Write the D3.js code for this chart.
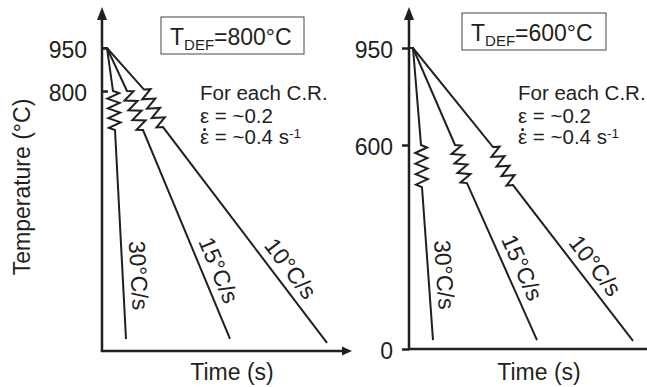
<!DOCTYPE html>
<html>
<head>
<meta charset="utf-8">
<script src="https://cdn.jsdelivr.net/npm/d3@7/dist/d3.min.js"></script>
<style>
  body { margin: 0; background: #fff; }
  svg { display: block; }
  text { font-family: "Liberation Sans", Arial, Helvetica, sans-serif; fill: #231f20; }
</style>
</head>
<body>
<svg id="chart" width="647" height="387"></svg>
<script>
// Thermal schedules: reheat to 950 °C, cool to T_DEF, deform, then cool at each rate.
// Every point is [time (arbitrary units), temperature (°C)].
const rateLabels = ["30°C/s", "15°C/s", "10°C/s"];
const deformTemps = [800, 600];
const yTicksLeft = [950, 800];
const yTicksRight = [950, 600, 0];
const strainText = "ε = ~0.2";
const rateText = " = ~0.4 s";

// panel T_DEF = 800 °C
const startLeft = [2, 950];
const deformStartLeft = [[4.4, 800], [10, 800], [16.8, 805]];
const deformEndLeft = [[5.2, 680], [16.4, 680], [24.4, 689]];
const endLeft = [[9.6, 37], [51.2, 37], [90, 25]];

// panel T_DEF = 600 °C
const startRight = [1.6, 950];
const deformStartRight = [[4.8, 600], [18.4, 600], [33.6, 594]];
const deformEndRight = [[5.2, 476], [23.2, 488], [41.6, 482]];
const endRight = [[9.6, 26], [51.2, 26], [89.6, 24]];

const svg = d3.select("#chart");
const INK = "#231f20";

function drawPanel(cfg) {
  const g = svg.append("g");
  const x = cfg.x, y = cfg.y;
  const x0 = x(0), yb = y(0);

  // axes with arrowheads
  g.append("line").attr("x1", x0).attr("y1", yb).attr("x2", x0).attr("y2", 16)
    .attr("stroke", INK).attr("stroke-width", 2.5);
  g.append("path").attr("d", `M${x0},7L${x0 - 5},20L${x0 + 5},20Z`).attr("fill", INK);
  g.append("line").attr("x1", x0 - 1.25).attr("y1", yb).attr("x2", cfg.xEnd - 6).attr("y2", yb)
    .attr("stroke", INK).attr("stroke-width", 2.5);
  g.append("path").attr("d", `M${cfg.xEnd},${yb}L${cfg.xEnd - 10},${yb - 4.5}L${cfg.xEnd - 10},${yb + 4.5}Z`)
    .attr("fill", INK);

  // temperature ticks
  const ax = d3.axisLeft(y).tickValues(cfg.ticks).tickFormat(d3.format("d"))
    .tickSizeInner(cfg.tickSize).tickSizeOuter(0).tickPadding(cfg.tickPad);
  const ag = g.append("g").attr("transform", `translate(${x0},0)`).call(ax);
  ag.select(".domain").remove();
  ag.selectAll(".tick line").attr("stroke", INK).attr("stroke-width", 2.5);
  ag.selectAll(".tick text").attr("font-size", 23).attr("dy", "0.4em")
    .attr("fill", INK).style("font-family", '"Liberation Sans", Arial, sans-serif');

  // cooling paths with a spring glyph marking the deformation step
  const line = d3.line();
  const amp = 6, teeth = 8;
  cfg.deformStart.forEach((ds, i) => {
    const p0 = [x(0), y(cfg.start[1])];
    const p1 = [x(cfg.start[0]), y(cfg.start[1])];
    const p2 = [x(ds[0]), y(ds[1])];
    const p3 = [x(cfg.deformEnd[i][0]), y(cfg.deformEnd[i][1])];
    const p4 = [x(cfg.end[i][0]), y(cfg.end[i][1])];
    const dx = p3[0] - p2[0], dy = p3[1] - p2[1];
    const L = Math.hypot(dx, dy);
    const ux = dx / L, uy = dy / L, nx = uy, ny = -ux;
    const spring = d3.range(teeth).map(k => {
      const s = L * (k + 0.5) / teeth, side = k % 2 ? -amp : amp;
      return [p2[0] + ux * s + nx * side, p2[1] + uy * s + ny * side];
    });
    g.append("path")
      .attr("d", line([p0, p1, p2, ...spring, p3, p4]))
      .attr("fill", "none").attr("stroke", INK).attr("stroke-width", 2)
      .attr("stroke-linejoin", "miter");

    // rate label along the final cooling segment
    const ex = p4[0] - p3[0], ey = p4[1] - p3[1];
    const ang = Math.atan2(ey, ex) * 180 / Math.PI;
    const f = cfg.labelFrac;
    g.append("text")
      .attr("transform", `translate(${p3[0] + ex * f},${p3[1] + ey * f}) rotate(${ang})`)
      .attr("y", -8).attr("text-anchor", "middle").attr("font-size", 23)
      .text(rateLabels[i]);
  });

  // T_DEF box
  g.append("rect").attr("x", cfg.box[0]).attr("y", cfg.box[1])
    .attr("width", cfg.box[2]).attr("height", cfg.box[3])
    .attr("fill", "none").attr("stroke", "#444").attr("stroke-width", 1);
  const tt = g.append("text").attr("x", cfg.box[0] + 9).attr("y", cfg.box[1] + 28).attr("font-size", 23);
  tt.append("tspan").text("T");
  tt.append("tspan").attr("font-size", 15).attr("dy", 5).text("DEF");
  tt.append("tspan").attr("dy", -5).text(`=${cfg.tdef}°C`);

  // deformation conditions
  const nx0 = cfg.note[0], ny0 = cfg.note[1];
  g.append("text").attr("x", nx0).attr("y", ny0).attr("font-size", 20.5).text("For each C.R.");
  g.append("text").attr("x", nx0).attr("y", ny0 + 23).attr("font-size", 20.5).text(strainText);
  const r = g.append("text").attr("x", nx0).attr("y", ny0 + 44).attr("font-size", 20.5);
  const eps = r.append("tspan").text("ε");
  r.append("tspan").text(rateText);
  r.append("tspan").attr("font-size", 13.5).attr("dy", -6).text("-1");
  // dot over the epsilon (strain rate)
  const ew = eps.node().getComputedTextLength();
  g.append("circle").attr("cx", nx0 + ew / 2).attr("cy", ny0 + 44 - 14.5)
    .attr("r", 1.5).attr("fill", INK);

  // time axis title
  g.append("text").attr("x", cfg.timeX).attr("y", 380).attr("text-anchor", "middle")
    .attr("font-size", 23).text("Time (s)");
}

drawPanel({
  x: d3.scaleLinear().domain([0, 100]).range([102, 352]),
  y: d3.scaleLinear().domain([0, 800, 950]).range([351, 91, 48]),
  xEnd: 352, ticks: yTicksLeft, tickSize: -6, tickPad: 15,
  start: startLeft, deformStart: deformStartLeft, deformEnd: deformEndLeft, end: endLeft,
  labelFrac: 0.7, tdef: deformTemps[0], box: [161, 17, 143, 37], note: [200, 100], timeX: 232
});

drawPanel({
  x: d3.scaleLinear().domain([0, 100]).range([409, 659]),
  y: d3.scaleLinear().domain([0, 600, 950]).range([349, 145, 48]),
  xEnd: 665, ticks: yTicksRight, tickSize: 7, tickPad: 9,
  start: startRight, deformStart: deformStartRight, deformEnd: deformEndRight, end: endRight,
  labelFrac: 0.58, tdef: deformTemps[1], box: [462, 13, 144, 37], note: [518, 100], timeX: 539
});

// temperature axis title
svg.append("text").attr("transform", "translate(30,187) rotate(-90)")
  .attr("text-anchor", "middle").attr("font-size", 23).text("Temperature (°C)");
</script>
</body>
</html>
